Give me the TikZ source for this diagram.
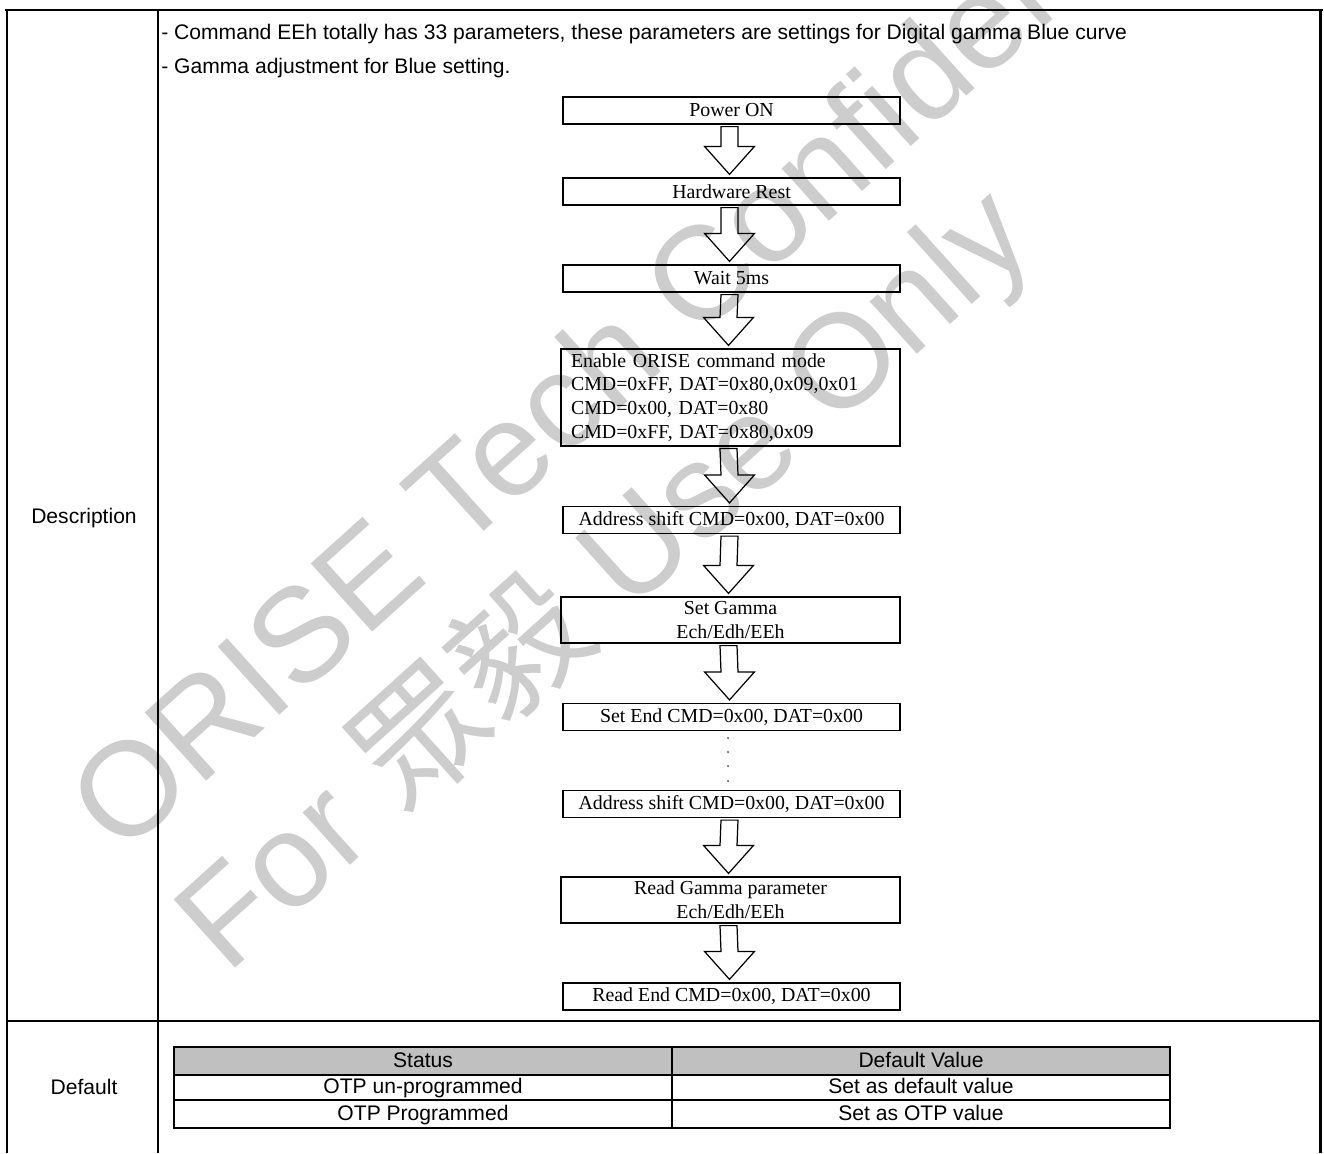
\documentclass[tikz,border=0pt]{standalone}
\usepackage{fontspec}
\setmainfont{Liberation Serif}
\setsansfont{Liberation Sans}
\newfontfamily\cjk{Noto Sans CJK TC}
\usepackage{tikz}
\usetikzlibrary{calc}

\definecolor{wmgray}{RGB}{205,205,205}
\definecolor{headgray}{RGB}{192,192,192}

\tikzset{
  flowbox/.style={draw, line width=0.7pt, inner sep=0pt, align=center,
                  minimum width=6.74cm, minimum height=0.54cm,
                  font=\fontsize{11.3}{13.6}\selectfont},
  flowarrow/.style={draw, line width=0.7pt},
  cell/.style={draw, line width=1.1pt, minimum width=9.96cm, inner sep=0pt,
               text height=0.716em, text depth=0pt,
               font=\sffamily\fontsize{12}{14}\selectfont},
  rowname/.style={inner sep=0pt, text height=0.716em, text depth=0pt,
                  font=\sffamily\fontsize{12}{14}\selectfont},
  desc/.style={anchor=base west, inner sep=0pt, font=\sffamily\fontsize{12}{14}\selectfont},
  watermark/.style={anchor=base west, rotate=42, inner sep=0pt, text=wmgray,
                    font=\sffamily\fontsize{76}{76}\selectfont}
}

% hollow block arrow from the bottom of #1 to the top of #2
\newcommand{\flowstep}[2]{%
  \draw[flowarrow] ($(#1.south)+(-10.5,2)$) -- ($(#2.north)+(-10.5,-31)$)
    -- ($(#2.north)+(-27,-31)$) -- ($(#2.north)+(-2,-3)$)
    -- ($(#2.north)+(23,-31)$) -- ($(#2.north)+(6.5,-31)$)
    -- ($(#1.south)+(6.5,2)$) -- cycle;}

\begin{document}
\begin{tikzpicture}[x=0.02cm, y=-0.02cm]
  \useasboundingbox (0,0) rectangle (1324,1153);

  % watermark
  \begin{scope}
    \clip (0,0) rectangle (1324,1153);
    \node[watermark] (wmtop) at (121.5,858) {ORISE Tech Confidential};
    \node[watermark] (wmbot) at (227,976) {For {\cjk 眾毅} Use Only};
  \end{scope}

  % frame
  \draw[line width=1.7pt] (5,10) -- (1323,10);
  \draw[line width=1.7pt] (7,10) -- (7,1153);
  \draw[line width=1.7pt] (1320,10) -- (1320,1153);
  \draw[line width=1.1pt] (158,10) -- (158,1153);
  \draw[line width=1.1pt] (7,1021) -- (1320,1021);

  \node[rowname] (descname) at (84,517) {Description};
  \node[rowname] (defname) at (84,1088) {Default};

  \node[desc] (descone) at (161,39) {- Command EEh totally has 33 parameters, these parameters are settings for Digital gamma Blue curve};
  \node[desc] (desctwo) at (161,73) {- Gamma adjustment for Blue setting.};

  % flow
  \node[flowbox] (pwr) at (731.5,110.5) {Power ON};
  \node[flowbox] (rst) at (731.5,191.5) {Hardware Rest};
  \node[flowbox] (wait) at (731.5,278.5) {Wait 5ms};
  \node[flowbox, minimum width=6.78cm, minimum height=1.94cm, align=left,
        text width=6.38cm, inner xsep=0.2cm] (ena) at (730.5,397.5)
       {Enable ORISE command mode\\CMD=0xFF, DAT=0x80,0x09,0x01\\CMD=0x00, DAT=0x80\\CMD=0xFF, DAT=0x80,0x09};
  \node[flowbox] (shiftone) at (731.5,520) {Address shift CMD=0x00, DAT=0x00};
  \node[flowbox, minimum width=6.78cm, minimum height=0.92cm] (setg) at (730.5,620) {Set Gamma\\Ech/Edh/EEh};
  \node[flowbox] (setend) at (731.5,717) {Set End CMD=0x00, DAT=0x00};
  \node[flowbox] (shifttwo) at (731.5,804) {Address shift CMD=0x00, DAT=0x00};
  \node[flowbox, minimum width=6.78cm, minimum height=0.92cm] (readg) at (730.5,900) {Read Gamma parameter\\Ech/Edh/EEh};
  \node[flowbox] (readend) at (731.5,996.5) {Read End CMD=0x00, DAT=0x00};

  \foreach \a/\b in {pwr/rst, rst/wait, wait/ena, ena/shiftone, shiftone/setg,
                     setg/setend, shifttwo/readg, readg/readend}
    \flowstep{\a}{\b};

  \foreach \y in {738,752,766,781}
    \fill[black!60] (728,\y) circle (0.7pt);

  % default table
  \node[cell, fill=headgray, minimum height=0.56cm] (stathead) at (423,1061) {Status};
  \node[cell, fill=headgray, minimum height=0.56cm] (valhead) at (921,1061) {Default Value};
  \node[cell, minimum height=0.5cm] (statone) at (423,1087.5) {OTP un-programmed};
  \node[cell, minimum height=0.5cm] (valone) at (921,1087.5) {Set as default value};
  \node[cell, minimum height=0.56cm] (stattwo) at (423,1114) {OTP Programmed};
  \node[cell, minimum height=0.56cm] (valtwo) at (921,1114) {Set as OTP value};
\end{tikzpicture}
\end{document}
